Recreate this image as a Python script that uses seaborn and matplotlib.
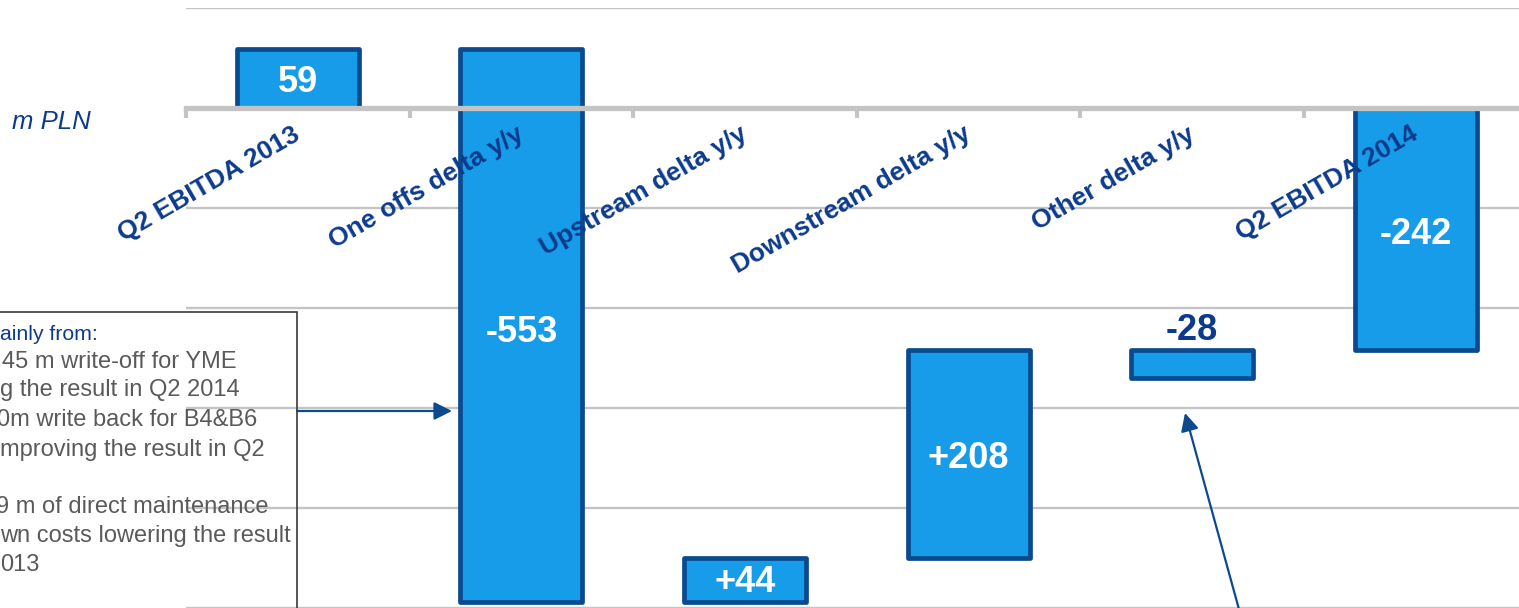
import matplotlib
matplotlib.use("Agg")
import matplotlib.pyplot as plt
from matplotlib.patches import Rectangle
import seaborn as sns
import numpy as np
import pandas as pd

# ---- data ----
categories = ["Q2 EBITDA 2013", "One offs delta y/y", "Upstream delta y/y",
              "Downstream delta y/y", "Other delta y/y", "Q2 EBITDA 2014"]
value_labels = ["59", "-553", "+44", "+208", "-28", "-242"]
bar_low = [0, -494, -494, -450, -270, -242]
bar_high = [59, 59, -450, -242, -242, 0]
label_y = [26, -224, -474, -351, -222, -126]
grid_levels = [100, -100, -200, -300, -400, -500]
note_lines = ["ainly from:", "45 m write-off for YME", "g the result in Q2 2014",
              "0m write back for B4&B6", "mproving the result in Q2", "",
              "9 m of direct maintenance", "wn costs lowering the result", "013"]
unit_label = "m PLN"

FILL = "#179CE9"
EDGE = "#0B4A8E"
DARK = "#0D3B8C"
GRID = "#C4C4C4"
GREY_TXT = "#5A5A5A"

sns.set_theme(style="white")
plt.rcParams["font.family"] = ["Liberation Sans", "DejaVu Sans"]

W, H = 1519, 608
fig = plt.figure(figsize=(W / 100, H / 100), dpi=100)
ax_left = 186 / W
ax = fig.add_axes([ax_left, 0, 1 - ax_left, 600 / H])

df = pd.DataFrame({"cat": categories,
                   "height": np.array(bar_high) - np.array(bar_low),
                   "low": bar_low})
sns.barplot(data=df, x="cat", y="height", order=categories, bottom=df["low"].values,
            color=FILL, saturation=1, edgecolor=EDGE, linewidth=3.4, width=0.545,
            ax=ax, zorder=2)
for p in ax.patches:
    p.set_joinstyle("round")

# gridlines
for g in grid_levels:
    ax.axhline(g, color=GRID, lw=1.7, zorder=0.5)

# zero line acting as category axis
for s in ["top", "right", "left"]:
    ax.spines[s].set_visible(False)
ax.spines["bottom"].set_position(("data", 0))
ax.spines["bottom"].set_color(GRID)
ax.spines["bottom"].set_linewidth(3.8)
ax.spines["bottom"].set_zorder(3)
ax.set_xticks(np.arange(-0.5, 5, 1.0))
ax.set_xticklabels([])
ax.tick_params(axis="x", which="major", length=7, width=3, color=GRID,
               direction="out", bottom=True)
ax.set_yticks([])
ax.set_xlabel("")
ax.set_ylabel("")
ax.set_xlim(-0.5, -0.5 + (W - 186) / 223.6)
ax.set_ylim(-500, 100)

# category labels
for i, c in enumerate(categories):
    ax.text(i - 0.025, -14, c, rotation=30, rotation_mode="anchor",
            ha="right", va="top", fontsize=19, fontweight="bold",
            color=DARK, zorder=5)

# value labels
for i, (v, y) in enumerate(zip(value_labels, label_y)):
    fam = ["Liberation Sans Narrow", "Liberation Sans"] if v.startswith("+") else ["Liberation Sans"]
    col = DARK if v == "-28" else "white"
    ax.text(i, y, v, ha="center", va="center", fontsize=26, fontweight="bold",
            color=col, family=fam, zorder=6)

# unit label
fig.text(12 / W, 1 - 122 / H, unit_label, ha="left", va="center",
         fontsize=18.5, style="italic", color=DARK)

# note box (cropped on the left)
fig.add_artist(Rectangle((-20 / W, -20 / H), (297 + 20) / W, (608 - 312 + 20) / H,
                         transform=fig.transFigure, fill=False,
                         edgecolor="#3A3A3A", lw=1.2, zorder=10))
note_y = [335, 362, 390, 420, 450, 480, 507, 536, 565]
note_x = [0, 2, 0, -3, 0, 0, -4, 0, 0]
note_fs = [15.3, 17, 17, 17, 17, 17, 17, 17, 17]
for i, (t, y, x, fs) in enumerate(zip(note_lines, note_y, note_x, note_fs)):
    if not t:
        continue
    fig.text(x / W, 1 - y / H, t, ha="left", va="center", fontsize=fs,
             color=DARK if i == 0 else GREY_TXT)

# arrows
arrow_kw = dict(arrowstyle="-|>,head_length=0.9,head_width=0.45", color=EDGE, lw=1.6,
                shrinkA=0, shrinkB=0)
ax.annotate("", xy=(452, H - 411), xycoords="figure pixels",
            xytext=(297, H - 411), textcoords="figure pixels",
            arrowprops=arrow_kw, annotation_clip=False)
ax.annotate("", xy=(1185, H - 413), xycoords="figure pixels",
            xytext=(1240, -5), textcoords="figure pixels",
            arrowprops=arrow_kw, annotation_clip=False)

fig.savefig("out.png", dpi=100)
